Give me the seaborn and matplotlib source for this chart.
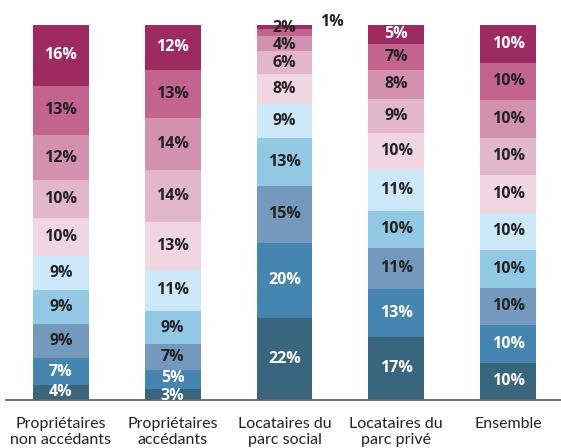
import pandas as pd
import numpy as np
import matplotlib
matplotlib.use("Agg")
import matplotlib.pyplot as plt
import seaborn as sns

# catégories (axe x)
categories = [
    "Propriétaires\nnon accédants",
    "Propriétaires\naccédants",
    "Locataires du\nparc social",
    "Locataires du\nparc privé",
    "Ensemble",
]

# parts par décile (du 1er au 10e), en %
proprio_non_accedants = [4, 7, 9, 9, 9, 10, 10, 12, 13, 16]
proprio_accedants = [3, 5, 7, 9, 11, 13, 14, 14, 13, 12]
locataires_social = [22, 20, 15, 13, 9, 8, 6, 4, 2, 1]
locataires_prive = [17, 13, 11, 10, 11, 10, 9, 8, 7, 5]
ensemble = [10, 10, 10, 10, 10, 10, 10, 10, 10, 10]

series = [proprio_non_accedants, proprio_accedants, locataires_social,
          locataires_prive, ensemble]

colors = ["#39657e", "#4585b0", "#7499bd", "#93c9e5", "#cde8f8",
          "#f0d6e0", "#e3b7cb", "#d390af", "#c3648e", "#9e2a62"]
white_text = {0, 1, 9}

sns.set_theme(style="white")
plt.rcParams["font.family"] = ["Lato", "DejaVu Sans"]
num_font = ["Open Sans", "DejaVu Sans"]

# table longue : hauteur cumulée (normalisée à 100) par décile
rows = []
for cat, vals in zip(categories, series):
    v = np.array(vals, dtype=float)
    v = v / v.sum() * 100
    cum = np.cumsum(v)
    for d in range(10):
        rows.append({"categorie": cat, "decile": d, "valeur": vals[d],
                     "haut": cum[d], "bas": cum[d] - v[d]})
df = pd.DataFrame(rows)

fig = plt.figure(figsize=(5.61, 4.48), dpi=100)
ax = fig.add_axes([6 / 561, 48 / 448, 555 / 561, 375 / 448])

# barres empilées : on dessine du décile le plus haut vers le plus bas
for d in range(9, -1, -1):
    sub = df[df["decile"] == d]
    sns.barplot(data=sub, x="categorie", y="haut", order=categories,
                color=colors[d], saturation=1, width=0.5, linewidth=0,
                ax=ax)

txt = dict(ha="center", va="center", fontsize=11.5, fontweight="bold",
           family=num_font, fontstretch="normal")

# étiquettes de valeurs
for i, cat in enumerate(categories):
    sub = df[df["categorie"] == cat]
    for _, r in sub.iterrows():
        d = int(r["decile"])
        col = "white" if d in white_text else "#222222"
        if r["valeur"] <= 1 and d == 9:
            ax.text(i + 0.42, 100.8, f"{r['valeur']}%", color="#222222",
                    clip_on=False, **txt)
            continue
        y = (r["bas"] + r["haut"]) / 2
        # petits segments serrés : léger décalage
        if r["valeur"] <= 2 and r["haut"] > 95:
            y += 1.2
        elif r["valeur"] <= 4 and r["haut"] > 93:
            y -= 0.4
        elif d == 0 and r["valeur"] <= 3:
            y -= 0.4
        elif d == 1 and r["valeur"] <= 5:
            y += 0.3
        ax.text(i, y, f"{r['valeur']}%", color=col, **txt)

ax.set_xlim(-0.491, 4.473)
ax.set_ylim(0, 100)
ax.set_xlabel("")
ax.set_ylabel("")
ax.set_yticks([])
for s in ["top", "right", "left"]:
    ax.spines[s].set_visible(False)
ax.spines["bottom"].set_color("#666666")
ax.spines["bottom"].set_linewidth(1.3)
ax.tick_params(axis="x", length=0, pad=12, labelsize=11.5, colors="#222222")

fig.savefig("out.png", dpi=100)
